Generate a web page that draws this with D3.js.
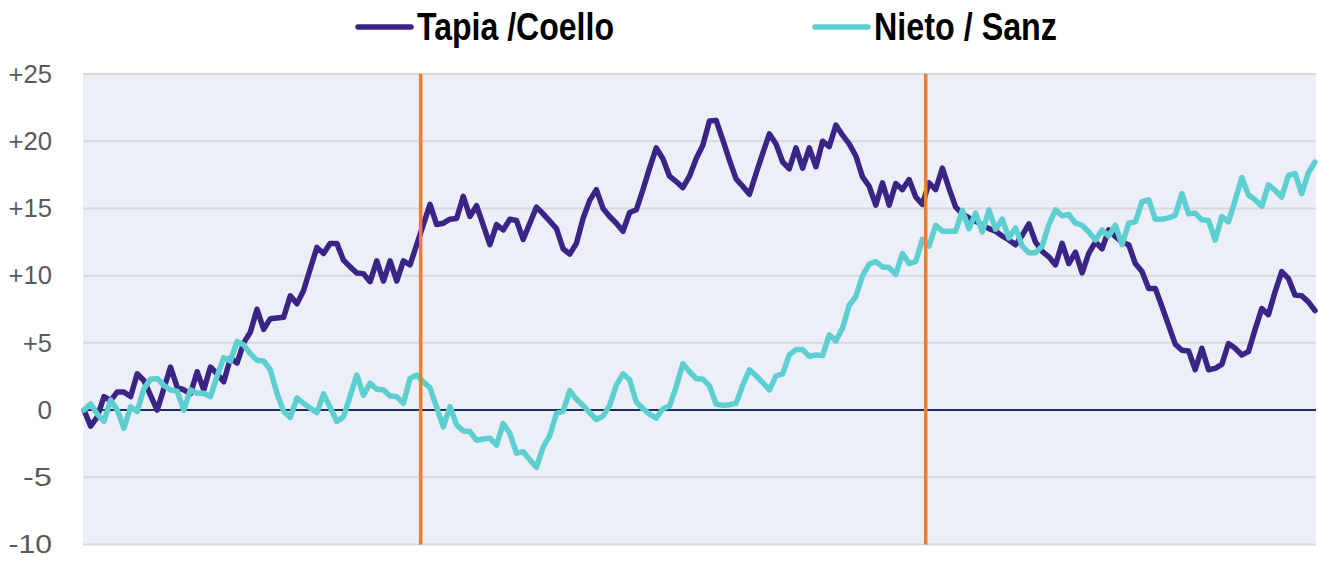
<!DOCTYPE html>
<html>
<head>
<meta charset="utf-8">
<script src="https://cdn.jsdelivr.net/npm/d3@7"></script>
<style>
  body { margin: 0; background: #ffffff; }
  svg { display: block; }
</style>
</head>
<body>
<div id="chart"></div>
<script>
// running point difference, one value per point played
var tapiaCoello = [
  0, -1.2, -0.5, 1.0, 0.7, 1.35, 1.35, 1.0, 2.7, 2.2,
  1.1, 0, 1.6, 3.2, 1.7, 1.5, 1.2, 2.85, 1.5, 3.2,
  2.7, 2.1, 3.85, 3.5, 5.0, 5.8, 7.5, 6.0, 6.8, 6.85,
  6.9, 8.5, 7.9, 8.9, 10.5, 12.1, 11.65, 12.4, 12.4, 11.15,
  10.65, 10.2, 10.15, 9.55, 11.1, 9.6, 11.1, 9.6, 11.1, 10.8,
  12.3, 13.8, 15.3, 13.8, 13.9, 14.2, 14.25, 15.9, 14.4, 15.2,
  13.75, 12.3, 13.8, 13.4, 14.2, 14.1, 12.7, 13.9, 15.1, 14.6,
  14.05, 13.5, 12.0, 11.6, 12.4, 14.25, 15.6, 16.4, 15.0, 14.4,
  13.9, 13.3, 14.7, 14.9, 16.4, 18.0, 19.5, 18.7, 17.4, 17.0,
  16.55, 17.4, 18.7, 19.7, 21.5, 21.55, 20.1, 18.6, 17.2, 16.65,
  16.05, 17.6, 19.1, 20.55, 19.8, 18.45, 17.95, 19.5, 18.0, 19.5,
  18.1, 20.0, 19.6, 21.2, 20.45, 19.8, 18.9, 17.35, 16.65, 15.25,
  16.9, 15.25, 16.85, 16.4, 17.15, 15.85, 15.3, 16.9, 16.4, 18.0,
  16.5, 15.1, 14.6, 14.3, 14.05, 13.75, 13.5, 13.3, 12.95, 12.65,
  12.3, 13.0, 13.85, 12.5, 11.8, 11.4, 10.8, 12.4, 10.9, 11.75,
  10.2, 11.65, 12.5, 12.0, 13.4, 12.9, 12.5, 12.3, 10.9, 10.3,
  9.05, 9.05, 7.7, 6.3, 4.9, 4.45, 4.4, 3.0, 4.6, 3.0,
  3.1, 3.4, 4.95, 4.6, 4.1, 4.35, 6.0, 7.55, 7.1, 8.8,
  10.3, 9.8, 8.55, 8.5, 8.05, 7.4
];

var nietoSanz = [
  0, 0.45, -0.3, -0.85, 0.75, 0, -1.35, 0.25, -0.1, 1.6,
  2.3, 2.35, 1.85, 1.5, 1.4, 0, 1.5, 1.25, 1.25, 1.0,
  2.5, 3.9, 3.65, 5.1, 4.85, 4.2, 3.7, 3.65, 3.0, 1.25,
  -0.1, -0.55, 0.9, 0.5, 0.15, -0.2, 1.2, 0.2, -0.85, -0.5,
  1.05, 2.6, 1.1, 2.0, 1.55, 1.5, 1.05, 1.0, 0.5, 2.35,
  2.6, 2.1, 1.65, 0.2, -1.25, 0.25, -1.1, -1.55, -1.6, -2.25,
  -2.15, -2.1, -2.6, -1.0, -1.75, -3.2, -3.1, -3.7, -4.25, -2.75,
  -1.9, -0.25, -0.1, 1.45, 0.8, 0.35, -0.2, -0.7, -0.45, 0.35,
  1.85, 2.7, 2.25, 0.6, 0.1, -0.3, -0.6, 0.1, 0.3, 1.75,
  3.45, 2.85, 2.35, 2.3, 1.8, 0.45, 0.35, 0.4, 0.5, 1.85,
  3.0, 2.55, 2.05, 1.5, 2.55, 2.7, 4.1, 4.5, 4.5, 4.0,
  4.1, 4.05, 5.6, 5.15, 6.1, 7.8, 8.45, 10.0, 10.85, 11.05,
  10.65, 10.6, 10.1, 11.65, 10.9, 11.05, 12.7, 12.2, 13.75, 13.3,
  13.3, 13.3, 14.85, 13.5, 14.65, 13.25, 14.9, 13.45, 14.2, 12.8,
  13.55, 12.2, 11.7, 11.7, 12.2, 13.8, 14.9, 14.45, 14.55, 13.9,
  13.75, 13.25, 12.65, 13.4, 12.95, 13.75, 12.3, 13.9, 14.0, 15.5,
  15.65, 14.2, 14.2, 14.3, 14.5, 16.1, 14.6, 14.65, 14.15, 14.1,
  12.65, 14.4, 14.0, 15.6, 17.3, 16.0, 15.65, 15.15, 16.75, 16.35,
  15.85, 17.45, 17.6, 16.1, 17.65, 18.45
];

var seriesNames = ["Tapia /Coello", "Nieto / Sanz"];
var seriesColors = ["#3a2587", "#5ecfd0"];

var yTicks = [25, 20, 15, 10, 5, 0, -5, -10];
var yTickLabels = ["+25", "+20", "+15", "+10", "+5", "0", "-5", "-10"];

// set changes, in point positions
var setBreaks = [50.6, 126.5];

function init() {

    var w = 1319;
    var h = 561;

    var plotLeft = 83;
    var plotRight = 1316;
    var plotTop = 74;
    var plotBottom = 544.5;

    var svg = d3.select("#chart")
        .append("svg")
        .attr("width", w)
        .attr("height", h);

    var x = d3.scaleLinear()
        .domain([0, tapiaCoello.length - 1])
        .range([84, 1315]);

    var y = d3.scaleLinear()
        .domain([-10, 25])
        .range([plotBottom, plotTop]);

    // plot background
    svg.append("rect")
        .attr("x", plotLeft)
        .attr("y", plotTop)
        .attr("width", plotRight - plotLeft)
        .attr("height", plotBottom - plotTop)
        .attr("fill", "#eceff8");

    // gridlines
    svg.selectAll("line.grid")
        .data(yTicks.filter(function(d){ return d !== 0; }))
        .enter()
        .append("line")
        .attr("class", "grid")
        .attr("x1", plotLeft)
        .attr("x2", plotRight)
        .attr("y1", function(d){ return y(d); })
        .attr("y2", function(d){ return y(d); })
        .attr("stroke", "#d9d9d9")
        .attr("stroke-width", 2);

    // zero line
    svg.append("line")
        .attr("x1", plotLeft)
        .attr("x2", plotRight)
        .attr("y1", y(0))
        .attr("y2", y(0))
        .attr("stroke", "#1f2f5e")
        .attr("stroke-width", 2);

    // y axis labels
    var yAxis = d3.axisLeft(y)
        .tickValues(yTicks)
        .tickSize(0)
        .tickPadding(31)
        .tickFormat(function(d){ return yTickLabels[yTicks.indexOf(d)]; });

    var gy = svg.append("g")
        .attr("transform", "translate(" + plotLeft + ",0)")
        .call(yAxis);

    gy.select(".domain").remove();
    gy.selectAll("text")
        .attr("fill", "#595959")
        .attr("textLength", function(d){ return yTickLabels[yTicks.indexOf(d)].length * 14.5; })
        .attr("lengthAdjust", "spacingAndGlyphs")
        .style("font-family", "'Liberation Sans', Arial, sans-serif")
        .style("font-size", "26px");

    var line = d3.line()
        .x(function(d, i){ return x(i); })
        .y(function(d){ return y(d); });

    var allSeries = [tapiaCoello, nietoSanz];

    svg.selectAll("path.series")
        .data(allSeries)
        .enter()
        .append("path")
        .attr("class", "series")
        .attr("d", function(d){ return line(d); })
        .attr("fill", "none")
        .attr("stroke", function(d, i){ return seriesColors[i]; })
        .attr("stroke-width", 5.5)
        .attr("stroke-linejoin", "round")
        .attr("stroke-linecap", "round");

    // set markers
    svg.selectAll("line.set")
        .data(setBreaks)
        .enter()
        .append("line")
        .attr("class", "set")
        .attr("x1", function(d){ return x(d); })
        .attr("x2", function(d){ return x(d); })
        .attr("y1", plotTop)
        .attr("y2", plotBottom)
        .attr("stroke", "#ed7d31")
        .attr("stroke-width", 3.5);

    // legend
    var legendX = [358, 815];
    var legendWidth = [197, 183];

    var legend = svg.selectAll("g.legend")
        .data(seriesNames)
        .enter()
        .append("g")
        .attr("class", "legend")
        .attr("transform", function(d, i){ return "translate(" + legendX[i] + ",0)"; });

    legend.append("line")
        .attr("x1", 0)
        .attr("x2", 53)
        .attr("y1", 27)
        .attr("y2", 27)
        .attr("stroke", function(d, i){ return seriesColors[i]; })
        .attr("stroke-width", 5.5)
        .attr("stroke-linecap", "round");

    legend.append("text")
        .attr("x", 59)
        .attr("y", 40)
        .attr("textLength", function(d, i){ return legendWidth[i]; })
        .attr("lengthAdjust", "spacingAndGlyphs")
        .attr("fill", "#000000")
        .style("font-family", "'Liberation Sans', Arial, sans-serif")
        .style("font-weight", "bold")
        .style("font-size", "38px")
        .text(function(d){ return d; });
}

window.onload = init;
</script>
</body>
</html>
